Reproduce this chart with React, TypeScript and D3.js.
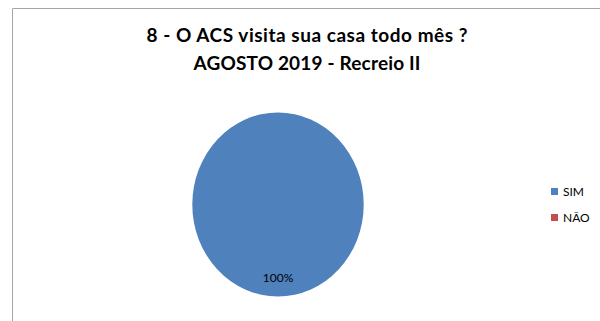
import React from "react";
import * as d3 from "d3";

const categories = ["SIM", "NÃO"];
const values = [100, 0];
const colors = ["#4F81BD", "#C0504D"];
const titleLines = ["8 - O ACS visita sua casa todo mês ?", "AGOSTO 2019 - Recreio II"];
const titleWidths = [321, 227];

export default function App() {
  const W = 600, H = 321;
  const cx = 278, cy = 204.5, rx = 85.7, ry = 92;
  const total = d3.sum(values);
  const pie = d3.pie<number>().value((d) => d).sort(null).startAngle(0).endAngle(2 * Math.PI);
  const arcs = pie(values);
  const arcGen = d3.arc<d3.PieArcDatum<number>>().innerRadius(0).outerRadius(1);
  const labelArc = d3.arc<d3.PieArcDatum<number>>().innerRadius(0.8).outerRadius(0.8);
  const fmt = d3.format(".0%");
  return (
    <svg width={W} height={H} style={{ position: "absolute", left: 0, top: 0 }} fontFamily="Lato, 'Open Sans', sans-serif">
      <rect x={0} y={0} width={W} height={H} fill="#fff" />
      <path d={`M12.5,${H} L12.5,8.5 L${W},8.5`} fill="none" stroke="#A6A6A6" strokeWidth={1} />
      {titleLines.map((t, i) => (
        <text key={i} x={307} y={42 + i * 28} textAnchor="middle" fontSize={19} fontWeight="bold" fill="#000"
          textLength={titleWidths[i]} lengthAdjust="spacing">
          {t}
        </text>
      ))}
      <g transform={`translate(${cx},${cy}) scale(${rx},${ry})`}>
        {arcs.map((a, i) =>
          a.value > 0 ? <path key={i} d={arcGen(a) || ""} fill={colors[i]} /> : null
        )}
      </g>
      {arcs.map((a, i) => {
        if (a.value <= 0) return null;
        let [lx, ly] = labelArc.centroid(a);
        if (a.endAngle - a.startAngle >= 2 * Math.PI - 1e-6) { lx = 0; ly = 0.8; }
        return (
          <text key={i} x={cx + lx * rx} y={cy + ly * ry + 4} textAnchor="middle" fontSize={12} fill="#000">
            {fmt(a.value / total)}
          </text>
        );
      })}
      {categories.map((c, i) => (
        <g key={c} transform={`translate(551,${188 + i * 26})`}>
          <rect x={0} y={0} width={7} height={7} fill={colors[i]} />
          <text x={12} y={8} fontSize={12} fill="#000">{c}</text>
        </g>
      ))}
    </svg>
  );
}
